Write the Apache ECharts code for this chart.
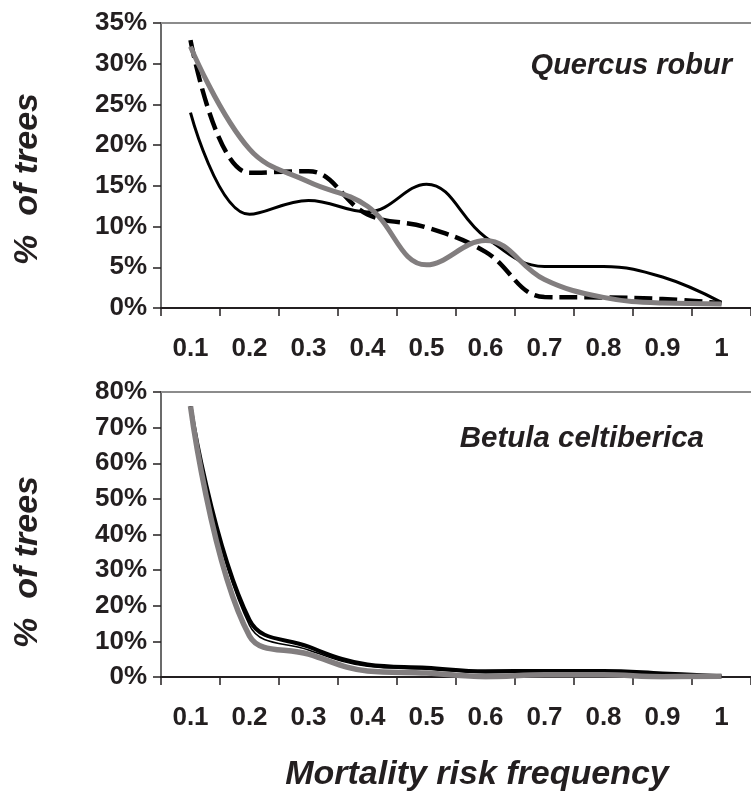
<!DOCTYPE html>
<html>
<head>
<meta charset="utf-8">
<script src="https://cdn.jsdelivr.net/npm/echarts@6/dist/echarts.min.js"></script>
<style>
  html, body { margin: 0; padding: 0; background: #fff; }
  #chart { width: 751px; height: 794px; }
</style>
</head>
<body>
<div id="chart"></div>
<script>
// mortality risk frequency classes
const categories = ['0.1', '0.2', '0.3', '0.4', '0.5', '0.6', '0.7', '0.8', '0.9', '1']

// Quercus robur, % of trees
const quercusThin   = [24.0, 11.5, 13.2, 11.8, 15.2, 8.7, 5.1, 5.1, 3.8, 0.7]
const quercusDashed = [32.9, 16.6, 16.8, 11.5, 9.9, 6.9, 1.35, 1.3, 1.1, 0.6]
const quercusGray   = [32.1, 19.5, 15.5, 12.5, 5.3, 8.3, 3.5, 1.3, 0.6, 0.5]

// Betula celtiberica, % of trees
const betulaThick = [76, 16, 8.5, 3.5, 2.6, 1.6, 1.7, 1.7, 1.0, 0.2]
const betulaThin  = [76, 14.5, 7.6, 3.0, 2.2, 1.2, 1.3, 1.3, 0.8, 0.2]
const betulaGray  = [76, 11.5, 6.4, 1.7, 1.1, 0.1, 0.6, 0.6, 0.1, 0.2]

const FONT = '"Liberation Sans", Arial, sans-serif'
const INK = '#231f20'
const GRAY = '#827e7f'

function bottomAxis(gridIndex) {
    return {
        type: 'category', gridIndex: gridIndex, data: categories, boundaryGap: true,
        axisLine: { show: true, lineStyle: { color: INK, width: 2 } },
        axisTick: { show: true, length: 8, lineStyle: { color: INK, width: 1.5 } },
        axisLabel: { interval: 0, margin: 28, color: INK, fontSize: 26, fontWeight: 'bold', fontFamily: FONT }
    }
}
// grey frame line along the top of each plot
function topAxis(gridIndex) {
    return {
        type: 'category', gridIndex: gridIndex, position: 'top', data: categories,
        axisLine: { show: true, lineStyle: { color: '#8c8c8c', width: 2 } },
        axisTick: { show: false }, axisLabel: { show: false }
    }
}
function valueAxis(gridIndex, max, step) {
    return {
        type: 'value', gridIndex: gridIndex, min: 0, max: max, interval: step,
        axisLine: { show: true, lineStyle: { color: '#3a3a3a', width: 1.5 } },
        axisTick: { show: true, length: 8, lineStyle: { color: INK, width: 1.5 } },
        splitLine: { show: false },
        axisLabel: { formatter: '{value}%', margin: 14, color: INK, fontSize: 26, fontWeight: 'bold', fontFamily: FONT }
    }
}
function line(xi, yi, data, style) {
    return {
        type: 'line', xAxisIndex: xi, yAxisIndex: yi, data: data,
        smooth: 0.4, symbol: 'none', showSymbol: false, lineStyle: style
    }
}
function label(text, x, y, size, align, rotate) {
    return {
        type: 'text', x: x, y: y, rotation: rotate || 0,
        style: {
            text: text, fill: INK, font: 'italic bold ' + size + 'px ' + FONT,
            align: align, textAlign: align, verticalAlign: 'middle', textVerticalAlign: 'middle'
        }
    }
}

const chart = echarts.init(document.getElementById('chart'))
chart.setOption({
    animation: false,
    backgroundColor: '#fff',
    grid: [
        { left: 161, top: 23, width: 595, height: 285 },
        { left: 161, top: 392, width: 595, height: 285 }
    ],
    xAxis: [bottomAxis(0), bottomAxis(1), topAxis(0), topAxis(1)],
    yAxis: [valueAxis(0, 35, 5), valueAxis(1, 80, 10)],
    series: [
        line(0, 0, quercusThin, { color: '#000', width: 3 }),
        line(0, 0, quercusDashed, { color: '#000', width: 4.5, type: [18, 7], cap: 'butt' }),
        line(0, 0, quercusGray, { color: GRAY, width: 5 }),
        line(1, 1, betulaThin, { color: '#000', width: 1.5 }),
        line(1, 1, betulaThick, { color: '#000', width: 4 }),
        line(1, 1, betulaGray, { color: GRAY, width: 5.5 })
    ],
    graphic: [
        label('Quercus robur', 732, 66, 29, 'right'),
        label('Betula celtiberica', 704, 439, 29.5, 'right'),
        label('%  of trees', 28, 179, 34, 'center', Math.PI / 2),
        label('%  of trees', 28, 562, 34, 'center', Math.PI / 2),
        label('Mortality risk frequency', 477, 775, 34, 'center')
    ]
})
</script>
</body>
</html>
